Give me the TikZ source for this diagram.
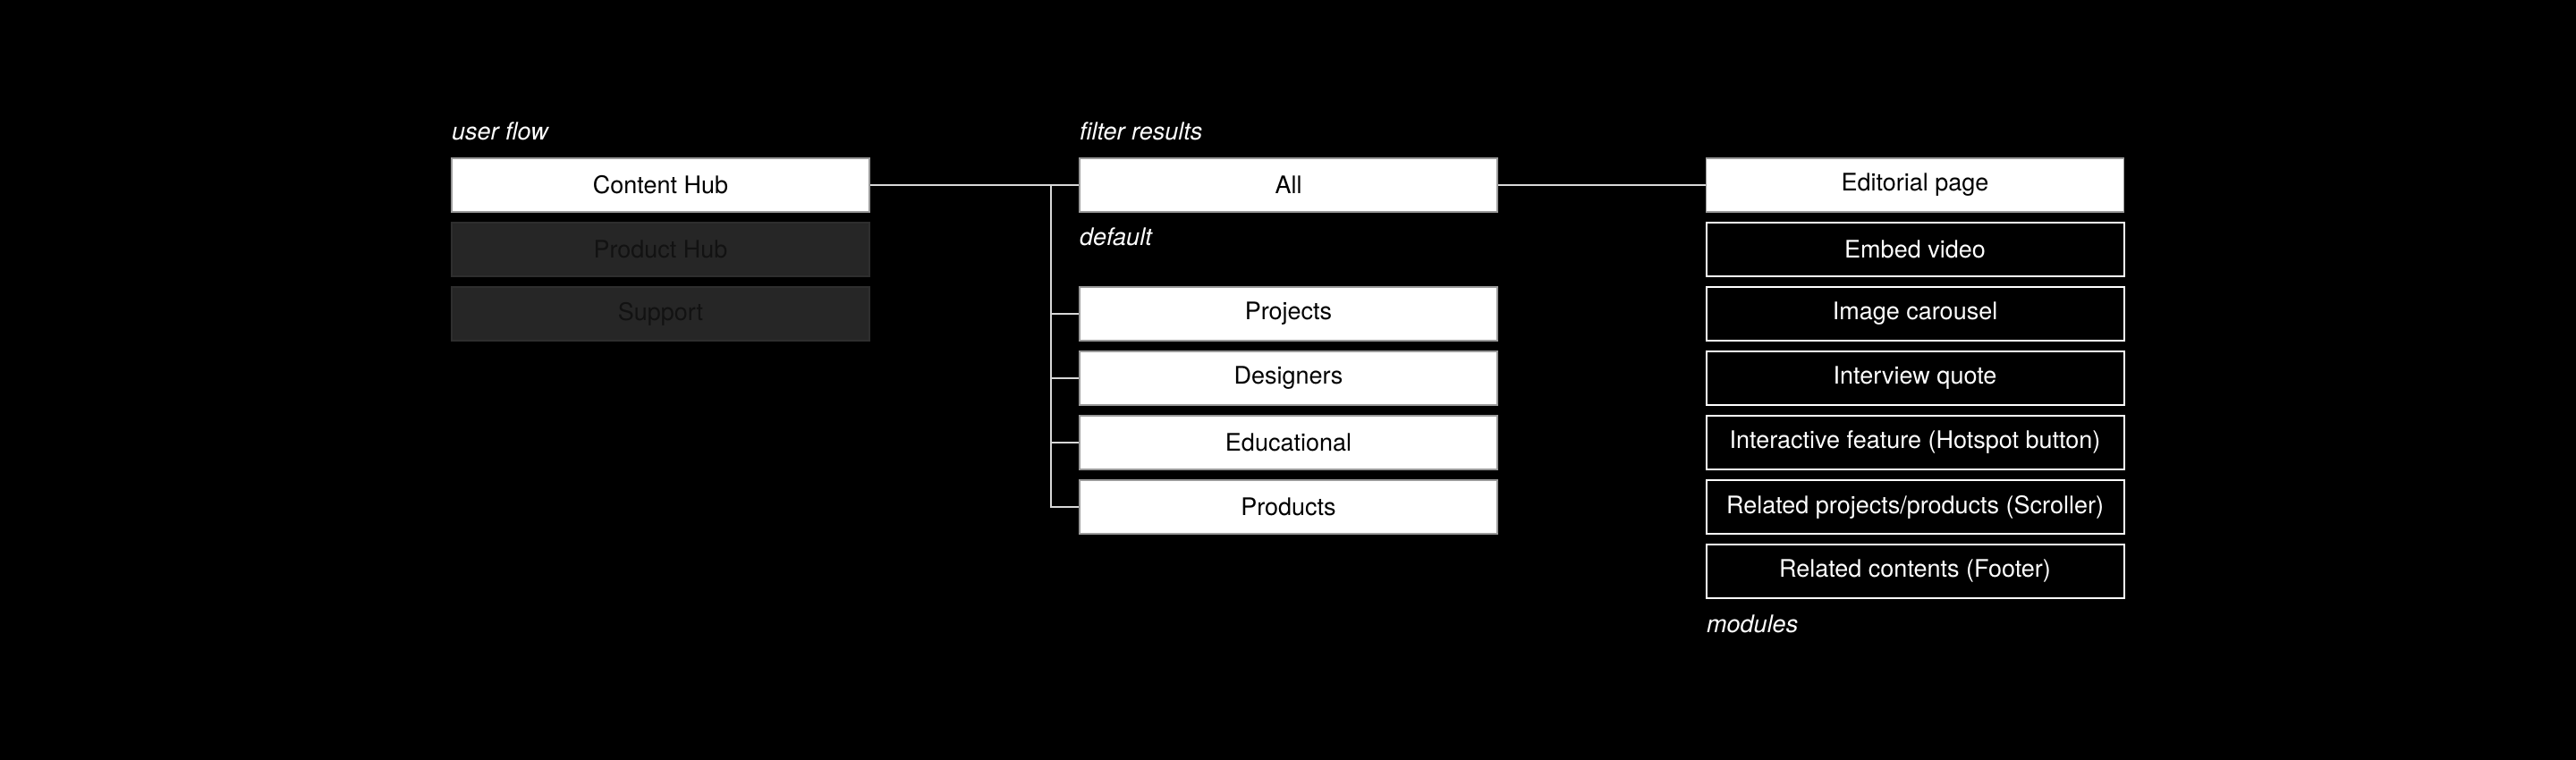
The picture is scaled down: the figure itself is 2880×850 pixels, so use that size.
\documentclass[tikz,border=0pt]{standalone}
\usepackage{fontspec}
\setmainfont{TeX Gyre Heros}
\definecolor{lineC}{HTML}{D8D8D8}
\definecolor{greyfill}{HTML}{262626}
\definecolor{greyedge}{HTML}{2E2E2E}
\definecolor{greytext}{HTML}{121212}
\definecolor{whiteedge}{HTML}{9A9A9A}
\tikzset{
  box/.style={rectangle, inner sep=0pt, minimum width=467pt, minimum height=60pt,
    font=\fontsize{27}{33}\selectfont},
  whitebox/.style={box, fill=white, draw=whiteedge, line width=1.5pt, text=black},
  greybox/.style={box, fill=greyfill, draw=greyedge, line width=1.5pt, text=greytext},
  darkbox/.style={box, fill=black, draw=white, line width=2pt, text=white},
  lbl/.style={anchor=base west, inner sep=0pt, text=white, font=\fontsize{27}{33}\selectfont\itshape},
  conn/.style={draw=lineC, line width=2pt}
}
\begin{document}
\begin{tikzpicture}[x=1pt,y=-1pt]
\fill[black] (0,0) rectangle (2880,850);
\useasboundingbox (0,0) rectangle (2880,850);
% left column
\node[lbl] (lufl) at (505,157) {user flow};
\node[whitebox] (hub) at (738.5,207) {Content Hub};
\node[greybox] (phub) at (738.5,279) {Product Hub};
\node[greybox] (supp) at (738.5,351) {Support};
% middle column
\node[lbl] (lfil) at (1207,157) {filter results};
\node[whitebox] (all) at (1440.5,207) {All};
\node[lbl] (ldef) at (1207,275) {default};
\node[whitebox] (proj) at (1440.5,351) {Projects};
\node[whitebox] (desi) at (1440.5,423) {Designers};
\node[whitebox] (educ) at (1440.5,495) {Educational};
\node[whitebox] (prod) at (1440.5,567) {Products};
% right column
\node[whitebox] (edit) at (2141,207) {Editorial page};
\node[darkbox] (m1) at (2141,279) {Embed video};
\node[darkbox] (m2) at (2141,351) {Image carousel};
\node[darkbox] (m3) at (2141,423) {Interview quote};
\node[darkbox] (m4) at (2141,495) {Interactive feature (Hotspot button)};
\node[darkbox] (m5) at (2141,567) {Related projects/products (Scroller)};
\node[darkbox] (m6) at (2141,639) {Related contents (Footer)};
\node[lbl] (lmod) at (1908,707) {modules};
% connectors
\coordinate (jn) at (1175,207);
\draw[conn] (hub.east) -- (all.west);
\draw[conn] (all.east) -- (edit.west);
\draw[conn] (jn) |- (prod.west);
\draw[conn] (jn) |- (proj.west);
\draw[conn] (jn) |- (desi.west);
\draw[conn] (jn) |- (educ.west);
\end{tikzpicture}
\end{document}
